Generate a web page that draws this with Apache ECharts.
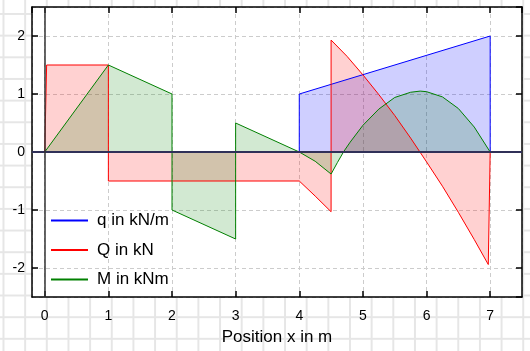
<!DOCTYPE html>
<html>
<head>
<meta charset="utf-8" />
<title>Beam diagram</title>
<script src="https://cdn.jsdelivr.net/npm/echarts@6/dist/echarts.min.js"></script>
<style>
    html, body { margin: 0; padding: 0; }
    body {
        width: 530px; height: 351px;
        background-color: #fff;
        background-image:
            linear-gradient(to right, #e6e6e6 2px, transparent 2px),
            linear-gradient(to bottom, #e6e6e6 2px, transparent 2px);
        background-size: 21.67px 21.67px;
        background-position: 2.5px 13px;
    }
    #main { width: 530px; height: 351px; }
</style>
</head>
<body>
<div id="main"></div>
<script>
    // q: distributed load (kN/m)
    var qX = [0, 4, 4, 7, 7];
    var qY = [0, 0, 1, 2, 0];

    // Q: shear force (kN)
    var shearX = [0, 0.03, 1, 1, 4, 4.25, 4.5, 4.5, 4.75, 5, 5.25, 5.5, 5.75, 6, 6.25, 6.5, 6.75, 6.97, 7];
    var shearY = [0, 1.5, 1.5, -0.5, -0.5, -0.76, -1.03, 1.93, 1.65, 1.33, 0.99, 0.63, 0.24, -0.17, -0.59, -1.04, -1.51, -1.94, 0];

    // M: bending moment (kNm)
    var momX = [0, 1, 2, 2, 3, 3, 4, 4.25, 4.5, 4.6, 4.7, 4.8, 5, 5.25, 5.5, 5.75, 5.9, 6, 6.25, 6.5, 6.75, 7];
    var momY = [0, 1.5, 1.0, -1.0, -1.5, 0.5, 0, -0.16, -0.38, -0.18, 0.01, 0.17, 0.46, 0.74, 0.94, 1.03, 1.05, 1.04, 0.95, 0.75, 0.43, 0];

    var seriesNames = ['q in kN/m', 'Q in kN', 'M in kNm'];

    const pairs = (xs, ys) => xs.map((x, i) => [x, ys[i]]);

    var font = "'Liberation Sans', Arial, sans-serif";
    var black = '#000';

    var chart = echarts.init(document.getElementById('main'), null, { renderer: 'canvas' });

    function axisCommon(extra) {
        return Object.assign({
            type: 'value',
            minInterval: 1,
            maxInterval: 1,
            axisLine: { show: true, onZero: false, lineStyle: { color: black, width: 1.5 } },
            axisTick: { show: true, inside: true, length: 6, lineStyle: { color: black, width: 1.5 } },
        }, extra);
    }

    var option = {
        animation: false,
        textStyle: { fontFamily: font },
        grid: {
            left: 32, top: 7, right: 8, bottom: 50,
            show: true, backgroundColor: '#fff', borderWidth: 0
        },
        legend: {
            orient: 'vertical',
            left: 50,
            top: 212,
            padding: 0,
            itemWidth: 37,
            itemHeight: 14,
            itemGap: 12.5,
            data: seriesNames,
            // only the line in the key, no marker
            itemStyle: { color: 'transparent', borderWidth: 0 },
            textStyle: { fontSize: 17, color: black, fontFamily: font, padding: [0, 0, 0, 4] }
        },
        xAxis: [
            axisCommon({
                min: -0.2, max: 7.5,
                position: 'bottom',
                name: 'Position x in m',
                nameLocation: 'middle',
                nameGap: 32,
                nameTextStyle: { fontSize: 17, color: black, fontFamily: font },
                axisLabel: { showMinLabel: false, showMaxLabel: false, fontSize: 14, color: black, margin: 12, fontFamily: font },
                splitLine: { show: true, lineStyle: { color: '#cccccc', type: [4, 3], width: 1 } }
            }),
            axisCommon({
                min: -0.2, max: 7.5,
                position: 'top',
                axisLabel: { show: false },
                splitLine: { show: false }
            })
        ],
        yAxis: [
            axisCommon({
                min: -2.5, max: 2.5,
                position: 'left',
                axisLabel: { showMinLabel: false, showMaxLabel: false, fontSize: 14, color: black, margin: 7, fontFamily: font },
                splitLine: { show: true, lineStyle: { color: '#cccccc', type: [4, 3], width: 1 } }
            }),
            axisCommon({
                min: -2.5, max: 2.5,
                position: 'right',
                axisLabel: { show: false },
                splitLine: { show: false }
            })
        ],
        series: [{
            name: seriesNames[0],
            type: 'line',
            symbol: 'none',
            data: pairs(qX, qY),
            lineStyle: { color: '#0000ff', width: 1 },
            itemStyle: { color: '#0000ff' },
            areaStyle: { color: 'rgba(0,0,255,0.27)' },
            markLine: {
                silent: true,
                symbol: ['none', 'none'],
                label: { show: false },
                data: [
                    { yAxis: 0, lineStyle: { color: '#303058', width: 2, type: 'solid' } },
                    { xAxis: 0, lineStyle: { color: '#333333', width: 1.5, type: 'solid' } }
                ]
            }
        }, {
            name: seriesNames[1],
            type: 'line',
            symbol: 'none',
            data: pairs(shearX, shearY),
            lineStyle: { color: '#ff0000', width: 1 },
            itemStyle: { color: '#ff0000' },
            areaStyle: { color: 'rgba(255,0,0,0.26)' }
        }, {
            name: seriesNames[2],
            type: 'line',
            symbol: 'none',
            data: pairs(momX, momY),
            lineStyle: { color: '#008000', width: 1 },
            itemStyle: { color: '#008000' },
            areaStyle: { color: 'rgba(0,128,0,0.25)' }
        }]
    };

    chart.setOption(option);
</script>
</body>
</html>
